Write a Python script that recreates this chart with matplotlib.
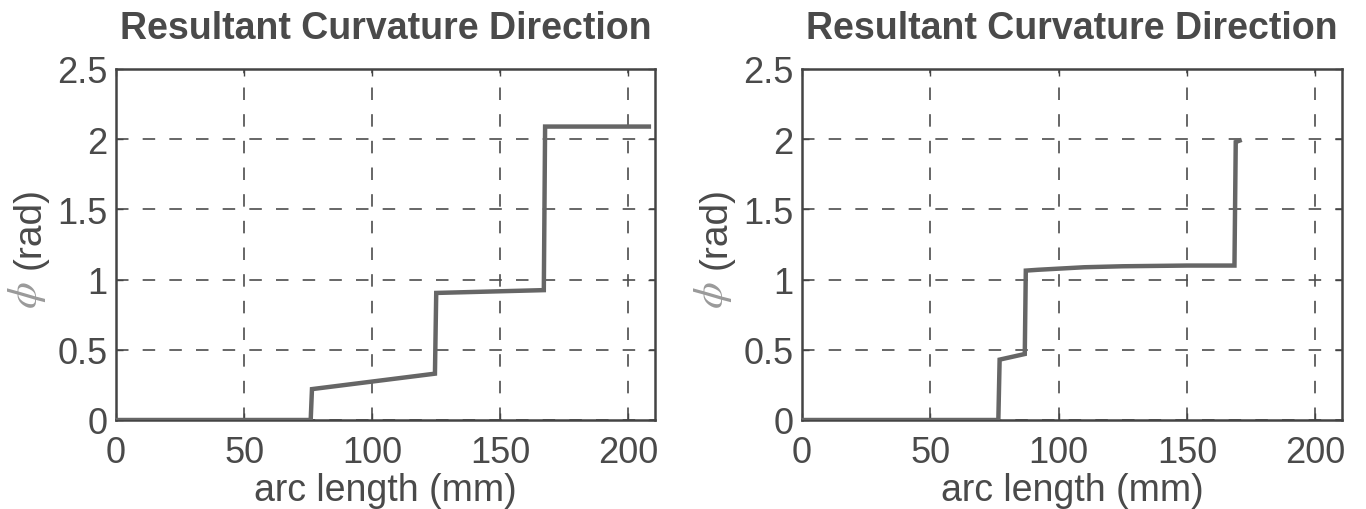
import matplotlib
matplotlib.use("Agg")
import matplotlib.pyplot as plt

# Data
left_x = [0, 76, 76.5, 124.5, 125, 167, 167.5, 208]
left_y = [0, 0, 0.22, 0.33, 0.905, 0.925, 2.09, 2.09]

right_x = [0, 76.5, 77, 86.8, 87.2, 92, 100, 110, 125, 150, 168.5, 169, 170.5]
right_y = [0, 0, 0.43, 0.47, 1.064, 1.07, 1.078, 1.088, 1.095, 1.10, 1.10, 1.98, 1.99]

xticks = [0, 50, 100, 150, 200]
yticks = [0, 0.5, 1, 1.5, 2, 2.5]
ytick_labels = ["0", "0.5", "1", "1.5", "2", "2.5"]
title = "Resultant Curvature Direction"
xlabel = "arc length (mm)"

plt.rcParams['font.family'] = ['Liberation Sans', 'DejaVu Sans']
TXT = '#4a4a4a'
LINE = '#666666'

fig = plt.figure(figsize=(13.66, 5.10), dpi=100)
W, H = 1366, 510
boxes = [(116, 655), (802, 1342)]
top, bot = 70, 421
series = [(left_x, left_y), (right_x, right_y)]

for (l, r), (xs, ys) in zip(boxes, series):
    ax = fig.add_axes([l / W, 1 - bot / H, (r - l) / W, (bot - top) / H])
    ax.plot(xs, ys, color=LINE, lw=3.2, solid_joinstyle='miter', zorder=3)
    ax.set_xlim(0, 210.4)
    ax.set_ylim(0, 2.5)
    ax.set_xticks(xticks)
    ax.set_yticks(yticks)
    ax.set_yticklabels(ytick_labels)
    ax.grid(True, color='#4d4d4d', linestyle=(0, (7.5, 8.5)), lw=1.2)
    for s in ax.spines.values():
        s.set_color('#444444')
        s.set_linewidth(1.8)
    ax.tick_params(direction='in', length=5, width=1, colors='#444444',
                   labelsize=26, labelcolor=TXT, top=True, right=True)
    ax.tick_params(axis='x', pad=11)
    ax.tick_params(axis='y', pad=6)
    ax.set_title(title, fontsize=27, fontweight='bold', color=TXT, pad=22)
    ax.set_xlabel(xlabel, fontsize=27, color=TXT, labelpad=1)
    ax.text(-0.16, 0.55, '(rad)', rotation=90, fontsize=28, color=TXT,
            transform=ax.transAxes, ha='center', va='center')
    ax.text(-0.165, 0.359, r'$\phi$', rotation=90, fontsize=31, color='#9a9a9a',
            math_fontfamily='stix',
            transform=ax.transAxes, ha='center', va='center')

fig.savefig('out.png', dpi=100)
